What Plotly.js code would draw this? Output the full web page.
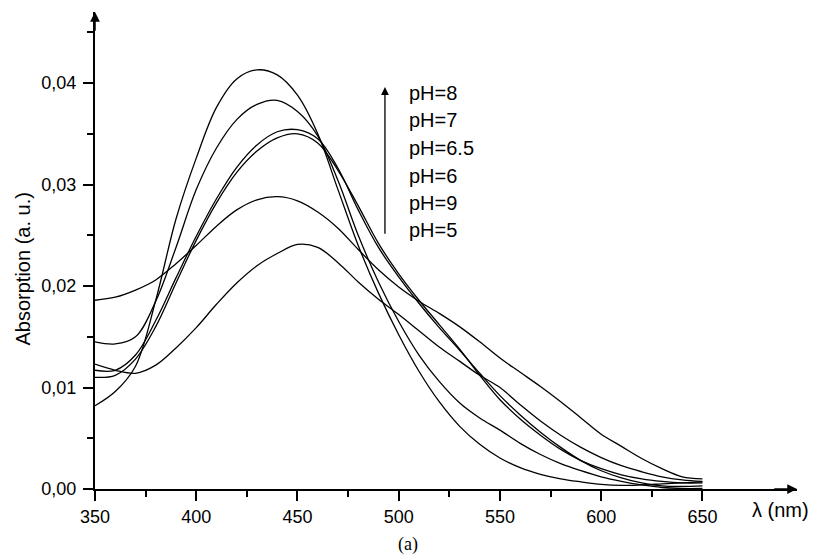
<!DOCTYPE html>
<html>
<head>
<meta charset="utf-8">
<script src="https://cdn.plot.ly/plotly-3.0.1.min.js"></script>
<style>
  html, body { margin: 0; padding: 0; background: #fff; }
  #chart { width: 816px; height: 558px; }
</style>
</head>
<body>
<div id="chart"></div>
<script>
// Wavelength (nm)
const wavelength = [350,360,370,380,390,400,410,420,430,440,450,460,470,480,490,500,
                    510,520,530,540,550,560,570,580,590,600,610,620,630,640,650];

// Absorption (a. u.) for each pH
const pH8  = [0.0082,0.0096,0.0121,0.0186,0.0266,0.0326,0.0376,0.0404,0.0413,0.0408,0.0388,0.0350,0.0295,0.0240,0.0193,0.0152,
              0.0116,0.0086,0.0062,0.0044,0.00305,0.0021,0.00145,0.0010,0.0007,0.00045,0.00035,0.0004,0.0005,0.0006,0.0007];
const pH7  = [0.0145,0.0143,0.0150,0.0185,0.0238,0.0295,0.0336,0.0364,0.0379,0.0383,0.0372,0.0348,0.0304,0.0250,0.0204,0.0165,
              0.0132,0.0106,0.0085,0.0070,0.0058,0.0045,0.0034,0.0025,0.0018,0.0012,0.00075,0.0004,0.00015,0.00005,0.00005];
const pH65 = [0.0117,0.0117,0.0132,0.0166,0.0208,0.0249,0.0286,0.0317,0.0339,0.0352,0.0354,0.0345,0.0316,0.0275,0.0238,0.0209,
              0.0183,0.0159,0.0137,0.0114,0.0092,0.0073,0.0056,0.0041,0.0028,0.0018,0.0011,0.0006,0.0003,0.00025,0.0003];
const pH6  = [0.0110,0.0112,0.0128,0.0160,0.0203,0.0245,0.0282,0.0312,0.0333,0.0346,0.0350,0.0341,0.0314,0.0279,0.0242,0.0212,
              0.0186,0.0162,0.0138,0.0112,0.0088,0.0069,0.0053,0.0039,0.0028,0.0020,0.0014,0.0010,0.00075,0.0006,0.0006];
const pH9  = [0.0186,0.0189,0.0196,0.0206,0.0222,0.0240,0.0259,0.0275,0.0285,0.0288,0.0284,0.0273,0.0257,0.0236,0.0216,0.0199,
              0.0185,0.0173,0.0160,0.0145,0.0129,0.0115,0.0101,0.0086,0.0070,0.0054,0.0042,0.0030,0.0020,0.0012,0.0010];
const pH5  = [0.0123,0.0117,0.0114,0.0122,0.0139,0.0159,0.0182,0.0203,0.0220,0.0232,0.0241,0.0238,0.0223,0.0204,0.0187,0.0172,
              0.0156,0.0140,0.0126,0.0112,0.0100,0.0083,0.0067,0.0053,0.0041,0.0031,0.0023,0.0017,0.0012,0.0009,0.00075];

const seriesNames = ["pH=8","pH=7","pH=6.5","pH=6","pH=9","pH=5"];
const seriesData  = [pH8, pH7, pH65, pH6, pH9, pH5];

// Ticks
const xTickVals  = [350,400,450,500,550,600,650];
const xTickText  = ["350","400","450","500","550","600","650"];
const xMinorVals = [375,425,475,525,575,625];
const yTickVals  = [0,0.01,0.02,0.03,0.04];
const yTickText  = ["0,00","0,01","0,02","0,03","0,04"];
const yMinorVals = [0.005,0.015,0.025,0.035,0.045];

const xMax = 696.7, yMax = 0.047;

const traces = seriesData.map((ys, i) => ({
  x: wavelength, y: ys, name: seriesNames[i], type: 'scatter', mode: 'lines',
  line: {color: '#000', width: 1.3, shape: 'spline', smoothing: 1.0},
  showlegend: false, hoverinfo: 'skip'
}));

const font = "Liberation Sans, Arial, Helvetica, sans-serif";
const labelFont = {family: font, size: 20, color: '#000'};

// pH labels stacked next to the arrow
const labelY = [0.03901, 0.03631, 0.03359, 0.03086, 0.02823, 0.02552];
const annotations = seriesNames.map((t, i) => ({
  x: 504.2, y: labelY[i], xref: 'x', yref: 'y', text: t, showarrow: false,
  xanchor: 'left', yanchor: 'middle', font: labelFont
}));

// arrows: x axis end, y axis end, pH arrow
annotations.push({x: xMax, y: 0, ax: xMax - 12, ay: 0, xref: 'x', yref: 'y', axref: 'x', ayref: 'y',
  text: '', showarrow: true, arrowhead: 2, arrowsize: 1.3, arrowwidth: 1.5, arrowcolor: '#000', standoff: 0});
annotations.push({x: 350, y: yMax, ax: 350, ay: yMax - 0.002, xref: 'x', yref: 'y', axref: 'x', ayref: 'y',
  text: '', showarrow: true, arrowhead: 2, arrowsize: 1.3, arrowwidth: 1.5, arrowcolor: '#000', standoff: 0});
annotations.push({x: 493.2, y: 0.0396, ax: 493.2, ay: 0.0250, xref: 'x', yref: 'y', axref: 'x', ayref: 'y',
  text: '', showarrow: true, arrowhead: 2, arrowsize: 1.2, arrowwidth: 1.3, arrowcolor: '#000', standoff: 0});

// axis titles / caption
annotations.push({xref: 'paper', yref: 'paper', x: 0.933, y: -0.0434, text: 'λ (nm)', showarrow: false,
  xanchor: 'left', yanchor: 'middle', font: {family: font, size: 20, color: '#000'}});
annotations.push({xref: 'paper', yref: 'paper', x: -0.102, y: 0.461, text: 'Absorption (a. u.)', showarrow: false,
  textangle: -90, xanchor: 'center', yanchor: 'middle', font: {family: font, size: 20, color: '#000'}});
annotations.push({xref: 'paper', yref: 'paper', x: 0.4459, y: -0.1168, text: '(a)', showarrow: false,
  xanchor: 'center', yanchor: 'middle', font: {family: 'Liberation Serif, Times New Roman, serif', size: 18, color: '#000'}});

const layout = {
  width: 816, height: 558,
  margin: {l: 95, r: 19, t: 12, b: 69, pad: 0},
  paper_bgcolor: '#fff', plot_bgcolor: '#fff',
  showlegend: false,
  xaxis: {
    range: [350, xMax], showgrid: false, zeroline: false,
    showline: true, linecolor: '#000', linewidth: 2,
    tickmode: 'array', tickvals: xTickVals, ticktext: xTickText,
    ticks: 'outside', ticklen: 10, tickwidth: 2, tickcolor: '#000',
    tickfont: {family: font, size: 18, color: '#000'},
    minor: {tickmode: 'array', tickvals: xMinorVals, ticks: 'outside', ticklen: 6, tickwidth: 2, tickcolor: '#000', showgrid: false}
  },
  yaxis: {
    range: [0, yMax], showgrid: false, zeroline: false,
    showline: true, linecolor: '#000', linewidth: 2,
    tickmode: 'array', tickvals: yTickVals, ticktext: yTickText,
    ticks: 'outside', ticklen: 10, tickwidth: 2, tickcolor: '#000',
    tickfont: {family: font, size: 18, color: '#000'},
    ticklabelstandoff: 3,
    minor: {tickmode: 'array', tickvals: yMinorVals, ticks: 'outside', ticklen: 6, tickwidth: 2, tickcolor: '#000', showgrid: false}
  },
  annotations: annotations
};

Plotly.newPlot('chart', traces, layout, {staticPlot: true, displayModeBar: false});
</script>
</body>
</html>
